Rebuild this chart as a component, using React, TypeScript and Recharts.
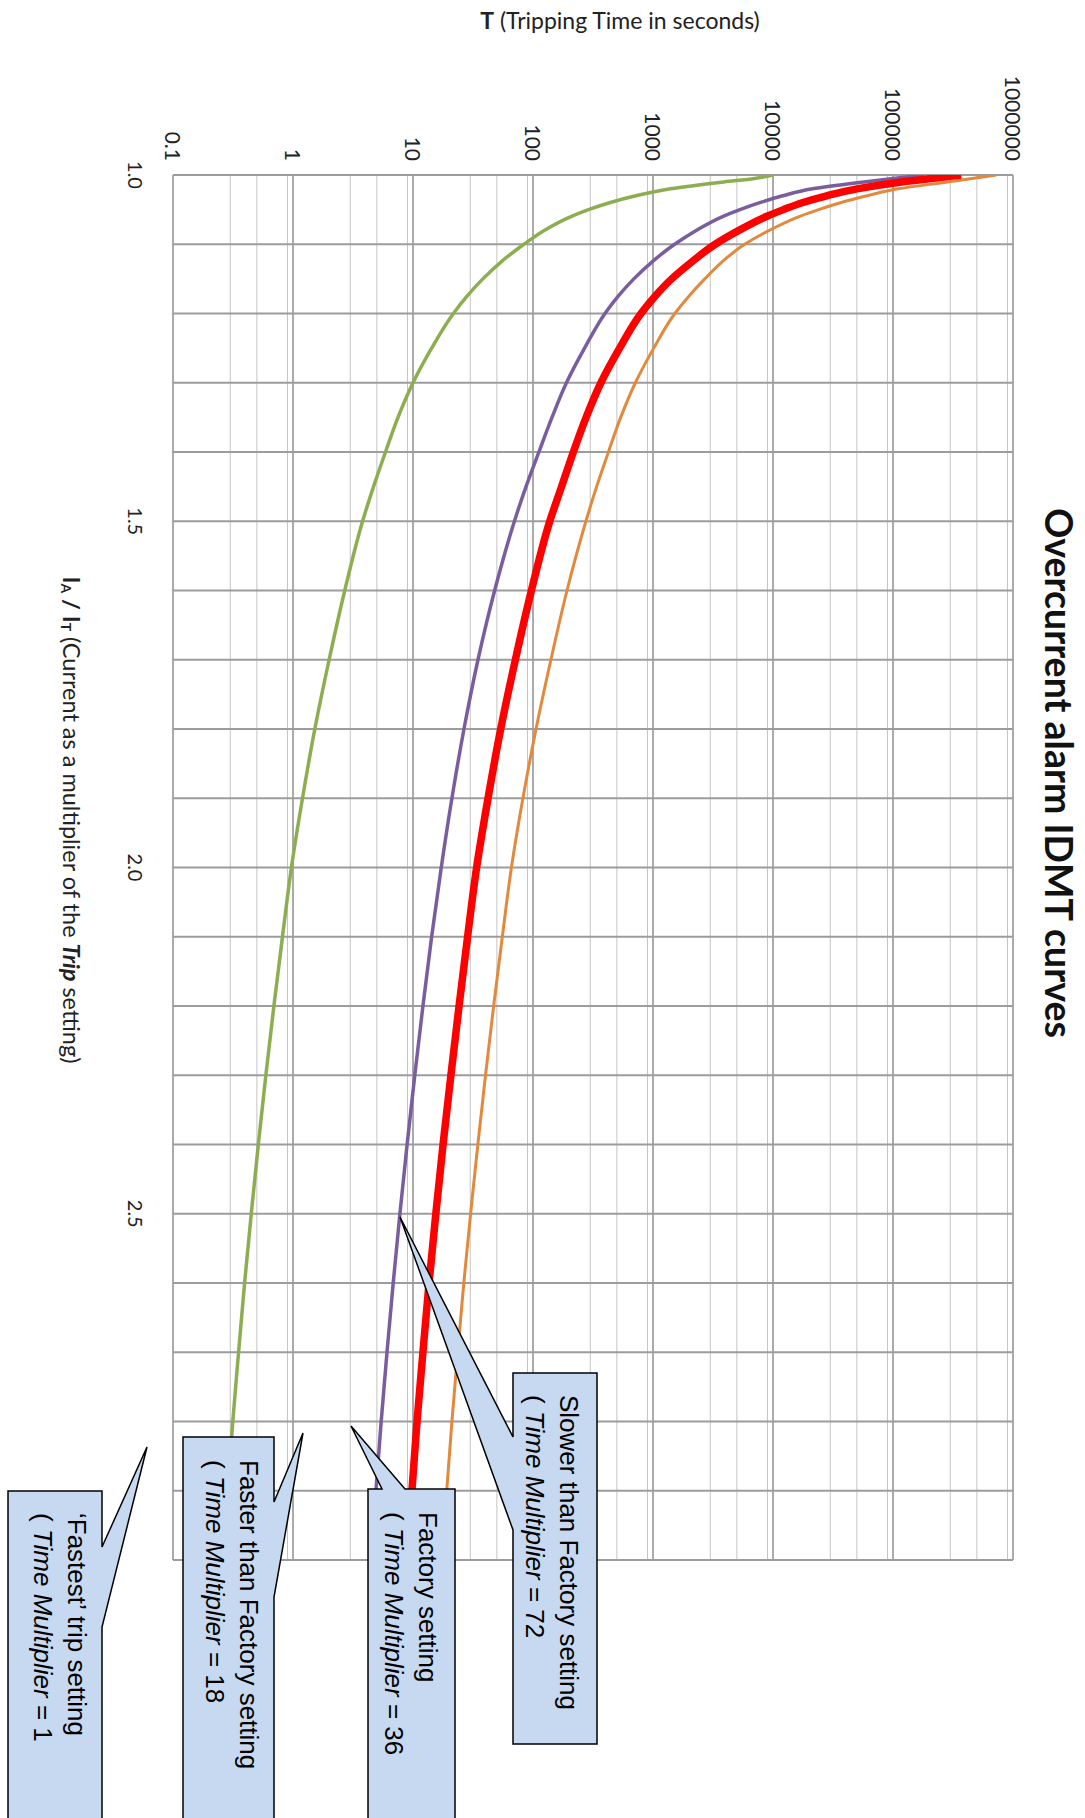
import { LineChart, Line, XAxis, YAxis, CartesianGrid } from "recharts";

// current as a multiple of the trip setting (I_A / I_T)
const current = [
  1.0, 1.005, 1.01, 1.02, 1.03, 1.04, 1.05, 1.06, 1.08, 1.1, 1.125, 1.15, 1.175, 1.2, 1.25, 1.3, 1.35, 1.4, 1.45,
  1.5, 1.6, 1.7, 1.8, 1.9, 2.0, 2.1, 2.2, 2.3, 2.4, 2.5, 2.6, 2.7, 2.8, 2.9, 3.0,
];

// tripping time in seconds
const fastest = [
  10000, 7000, 3900, 1400, 720, 434, 290, 207, 124, 84, 54.6, 38.2, 28.2, 21.7, 14.3, 10, 7.5, 5.9, 4.69,
  3.8, 2.7, 2.0, 1.52, 1.2, 0.97, 0.817, 0.693, 0.594, 0.514, 0.449, 0.395, 0.352, 0.315, 0.286, 0.26,
];
const faster = [
  180000, 100000, 57500, 21400, 12000, 7760, 5310, 3800, 2290, 1514, 989, 692, 513, 398, 269, 190, 144, 112, 87.5,
  70, 47.9, 34.8, 26.6, 21.1, 17.2, 14.3, 12.1, 10.35, 8.93, 7.78, 6.84, 6.07, 5.43, 4.91, 4.48,
];
const factory = [
  370000, 210000, 118000, 50000, 28000, 17500, 12200, 8800, 5200, 3300, 2120, 1430, 1040, 794, 527, 368, 277, 217, 173,
  138, 97, 71.3, 53.8, 42.2, 33.9, 28.5, 24.2, 20.7, 17.8, 15.5, 13.6, 12.1, 10.8, 9.8, 8.93,
];
const slower = [
  726000, 455000, 285000, 110000, 61000, 36500, 24000, 16500, 9300, 5800, 3785, 2700, 1990, 1520, 1014, 713, 538, 425, 339,
  276, 192, 141, 106, 82.4, 66.1, 55.5, 47, 40.2, 34.7, 30.2, 26.5, 23.6, 21.1, 19.1, 17.4,
];

const xTicks = [1.0, 1.5, 2.0, 2.5];
const yTicks = [0.1, 1, 10, 100, 1000, 10000, 100000, 1000000];
const currentGrid = [
  1.0, 1.1, 1.2, 1.3, 1.4, 1.5, 1.6, 1.7, 1.8, 1.9, 2.0, 2.1, 2.2, 2.3, 2.4, 2.5, 2.6, 2.7, 2.8, 2.9, 3.0,
];
const minorSteps = [2, 3, 4, 5, 6, 7, 8, 9];

const calloutTitles = [
  "Slower than Factory setting",
  "Factory setting",
  "Faster than Factory setting",
  "\u2018Fastest\u2019 trip setting",
];
const calloutMultipliers = [72, 36, 18, 1];

const data = current.map((i, k) => ({
  i,
  fastest: fastest[k],
  faster: faster[k],
  factory: factory[k],
  slower: slower[k],
}));
const minorGrid = yTicks.slice(0, -1).flatMap(d => minorSteps.map(m => +(d * m).toPrecision(3)));

// chart is laid out landscape, then turned a quarter turn clockwise
const W = 1818;
const H = 1085;

// callout bubbles (landscape coordinates)
const calloutShapes = [
  { path: "M1373,488 H1744 V572 H1530 L1217,685 L1437,572 H1373 Z", tx: 1395, ty: 525 },
  { path: "M1489,630 H1830 V717 H1489 V703 L1426,734 L1489,680 Z", tx: 1512, ty: 666 },
  { path: "M1437,811 H1502 L1433,782 L1597,811 H1830 V902 H1437 Z", tx: 1460, ty: 845 },
  { path: "M1491,983 H1547 L1447,938 L1627,983 H1830 V1077 H1491 Z", tx: 1513, ty: 1017 },
];

const calibri = "Lato, 'Open Sans', sans-serif";
const arial = "'Liberation Sans', Arial, sans-serif";

const XTick = (props: any) => (
  <text x={props.x} y={949} textAnchor="middle" dominantBaseline="central" fontFamily={calibri} fontSize={20} fill="#222">
    {Number(props.payload.value).toFixed(1)}
  </text>
);

const YTick = (props: any) => (
  <text x={161} y={props.y} textAnchor="end" dominantBaseline="central" fontFamily={calibri} fontSize={21} fill="#222">
    {String(props.payload.value)}
  </text>
);

export default function App() {
  return (
    <div style={{position: "absolute", left: 0, top: 0, width: H, height: W, overflow: "hidden", background: "#fff"}}>
      <div
        style={{
          position: "absolute",
          left: 0,
          top: 0,
          width: W,
          height: H,
          transformOrigin: "0 0",
          transform: `translateX(${H}px) rotate(90deg)`,
        }}
      >
        <LineChart width={W} height={H} data={data} margin={{top: 72, right: 258, bottom: 133, left: 0}}>
          <CartesianGrid horizontalValues={minorGrid} vertical={false} stroke="#c4c4c4" strokeWidth={1} />
          <CartesianGrid horizontalValues={yTicks} vertical={false} stroke="#8e8e8e" strokeWidth={1.5} />
          <CartesianGrid verticalValues={currentGrid} horizontal={false} stroke="#9c9c9c" strokeWidth={2} />
          <XAxis
            type="number"
            dataKey="i"
            domain={[1, 3]}
            ticks={xTicks}
            allowDataOverflow
            axisLine={false}
            tickLine={false}
            height={40}
            tick={<XTick />}
          />
          <YAxis
            type="number"
            scale="log"
            domain={[0.1, 1000000]}
            ticks={yTicks}
            allowDataOverflow
            axisLine={false}
            tickLine={false}
            width={175}
            tick={<YTick />}
          />
          <Line type="monotone" dataKey="fastest" stroke="#8cae50" strokeWidth={3.5} dot={false} isAnimationActive={false} />
          <Line type="monotone" dataKey="faster" stroke="#7a5d9e" strokeWidth={3.5} dot={false} isAnimationActive={false} />
          <Line type="monotone" dataKey="slower" stroke="#e3893d" strokeWidth={3} dot={false} isAnimationActive={false} />
          <Line type="monotone" dataKey="factory" stroke="#ff0000" strokeWidth={7.5} dot={false} isAnimationActive={false} />
        </LineChart>

        <svg width={W} height={H} style={{position: "absolute", left: 0, top: 0, pointerEvents: "none"}}>
          <text x={773} y={26} textAnchor="middle" dominantBaseline="central" fontFamily={calibri} fontWeight="bold" fontSize={37.5} fill="#111">
            Overcurrent alarm IDMT curves
          </text>
          <text
            x={20}
            y={465}
            transform="rotate(-90 20 465)"
            textAnchor="middle"
            dominantBaseline="central"
            fontFamily={calibri}
            fontSize={23}
            fill="#222"
          >
            <tspan fontWeight="bold">T</tspan>
            {"  (Tripping Time in seconds)"}
          </text>
          <text x={820} y={1013} textAnchor="middle" dominantBaseline="central" fontFamily={calibri} fontSize={23.5} fill="#222">
            <tspan fontWeight="bold">I</tspan>
            <tspan fontWeight="bold" fontSize={14} dy={5}>A</tspan>
            <tspan fontWeight="bold" dy={-5}>{" / I"}</tspan>
            <tspan fontWeight="bold" fontSize={14} dy={5}>T</tspan>
            <tspan dy={-5}>{" (Current as a multiplier of the "}</tspan>
            <tspan fontStyle="italic" fontWeight="bold">Trip</tspan>
            <tspan>{" setting)"}</tspan>
          </text>

          {calloutShapes.map((c, k) => (
            <g key={k}>
              <path d={c.path} fill="#c6d9f1" stroke="#000" strokeWidth={1.5} strokeLinejoin="miter" />
              <text x={c.tx} y={c.ty} fontFamily={arial} fontSize={26} fill="#000">
                {calloutTitles[k]}
              </text>
              <text x={c.tx} y={c.ty + 34} fontFamily={arial} fontSize={26} fill="#000">
                {"( "}
                <tspan fontStyle="italic">Time Multiplier</tspan>
                {` = ${calloutMultipliers[k]}`}
              </text>
            </g>
          ))}
        </svg>
      </div>
    </div>
  );
}
